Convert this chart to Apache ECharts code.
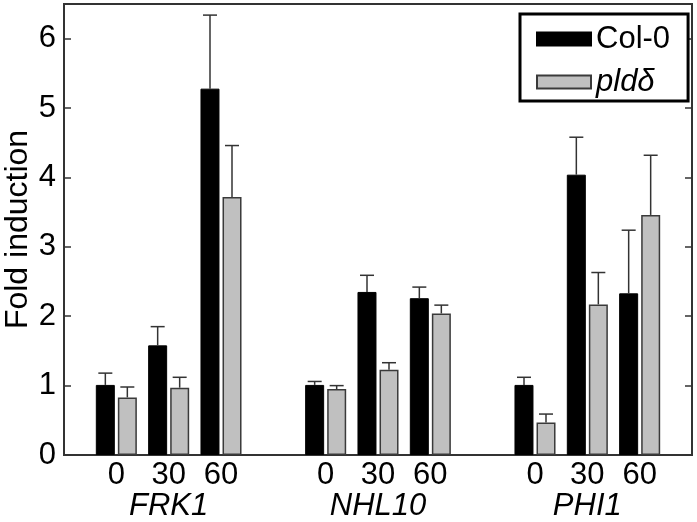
<!DOCTYPE html>
<html>
<head>
<meta charset="utf-8">
<script src="https://cdn.jsdelivr.net/npm/echarts@6/dist/echarts.min.js"></script>
<style>
  html, body { margin: 0; padding: 0; background: #fff; }
  #chart { width: 697px; height: 522px; }
</style>
</head>
<body>
<div id="chart"></div>
<script>
// time points (min) and genes
const times = ['0', '30', '60']
const genes = ['FRK1', 'NHL10', 'PHI1']

// fold induction (FRK1 x3, NHL10 x3, PHI1 x3)
const colMean = [1.01, 1.58, 5.28, 1.01, 2.35, 2.26, 1.01, 4.04, 2.33]
const colErr = [0.17, 0.27, 1.06, 0.05, 0.24, 0.16, 0.11, 0.54, 0.91]
const pldMean = [0.83, 0.97, 3.72, 0.95, 1.23, 2.04, 0.47, 2.17, 3.46]
const pldErr = [0.15, 0.15, 0.74, 0.05, 0.10, 0.12, 0.12, 0.46, 0.86]

const yTicks = [0, 1, 2, 3, 4, 5, 6]

const FONT = '"Liberation Sans", Arial, sans-serif'

// categories: a blank slot before each gene group and one at the end
const categories = []
const groupLabelAt = {}
const colData = []
const pldData = []
const colErrData = []
const pldErrData = []
genes.forEach((g, gi) => {
  categories.push('')
  colData.push(null)
  pldData.push(null)
  times.forEach((t, ti) => {
    const k = gi * times.length + ti
    const idx = categories.length
    categories.push(t)
    colData.push(colMean[k])
    pldData.push(pldMean[k])
    colErrData.push([idx, colMean[k], colErr[k]])
    pldErrData.push([idx, pldMean[k], pldErr[k]])
    if (ti === 1) groupLabelAt[idx] = g
  })
})
categories.push('')
colData.push(null)
pldData.push(null)

function errorBar (offset) {
  return function (params, api) {
    const x = api.value(0)
    const mean = api.value(1)
    const err = api.value(2)
    const p0 = api.coord([x, mean])
    const p1 = api.coord([x, mean + err])
    const cx = p0[0] + offset
    const style = { stroke: '#333', lineWidth: 1.5 }
    return {
      type: 'group',
      children: [
        { type: 'line', shape: { x1: cx, y1: p0[1], x2: cx, y2: p1[1] }, style: style },
        { type: 'line', shape: { x1: cx - 7, y1: p1[1], x2: cx + 7, y2: p1[1] }, style: style }
      ]
    }
  }
}

const chart = echarts.init(document.getElementById('chart'))
chart.setOption({
  animation: false,
  textStyle: { fontFamily: FONT },
  grid: {
    left: 64, right: 5, top: 4, bottom: 67,
    outerBoundsMode: 'none',
    containLabel: false,
    show: true, borderColor: '#333', borderWidth: 2
  },
  legend: {
    left: 520,
    top: 14,
    orient: 'vertical',
    icon: 'rect',
    data: [
      { name: 'Col-0' },
      { name: 'pldδ', textStyle: { fontStyle: 'italic' } }
    ],
    itemWidth: 54,
    itemHeight: 13,
    itemGap: 9,
    padding: [8, 18, 2, 16],
    borderColor: '#000',
    borderWidth: 3,
    backgroundColor: '#fff',
    textStyle: { fontFamily: FONT, fontSize: 31, lineHeight: 34, color: '#000' }
  },
  xAxis: {
    type: 'category',
    data: categories,
    boundaryGap: false,
    axisLine: { show: false },
    axisTick: { show: false },
    axisLabel: {
      interval: 0,
      margin: 5,
      color: '#000',
      fontSize: 31,
      lineHeight: 31,
      formatter: function (value, index) {
        if (groupLabelAt[index]) return value + '\n{g|' + groupLabelAt[index] + '}'
        return value
      },
      rich: {
        g: { fontSize: 31, lineHeight: 31, fontStyle: 'italic', color: '#000', fontFamily: FONT }
      }
    }
  },
  yAxis: [
    {
      type: 'value',
      min: 0,
      max: 6.5,
      interval: 1,
      name: 'Fold induction',
      nameLocation: 'middle',
      nameGap: 30,
      nameMoveOverlap: false,
      nameTextStyle: { fontSize: 32, color: '#000', fontFamily: FONT },
      axisLine: { show: false },
      axisTick: { show: true, inside: true, length: 7, customValues: yTicks, lineStyle: { color: '#333', width: 1.5 } },
      axisLabel: { customValues: yTicks, margin: 8, fontSize: 31, color: '#000' },
      splitLine: { show: false }
    },
    {
      type: 'value',
      position: 'right',
      min: 0,
      max: 6.5,
      interval: 1,
      axisLine: { show: false },
      axisTick: { show: true, inside: true, length: 7, customValues: yTicks, lineStyle: { color: '#333', width: 1.5 } },
      axisLabel: { show: false },
      splitLine: { show: false }
    }
  ],
  series: [
    {
      name: 'Col-0',
      type: 'bar',
      data: colData,
      barWidth: 19,
      barGap: '16%',
      itemStyle: { color: '#000', borderColor: '#000', borderWidth: 1 }
    },
    {
      name: 'pldδ',
      type: 'bar',
      data: pldData,
      barWidth: 19,
      itemStyle: { color: '#c0c0c0', borderColor: '#3a3a3a', borderWidth: 1.5 }
    },
    {
      type: 'custom',
      renderItem: errorBar(-11),
      data: colErrData,
      z: 5
    },
    {
      type: 'custom',
      renderItem: errorBar(11),
      data: pldErrData,
      z: 5
    }
  ]
})
</script>
</body>
</html>
